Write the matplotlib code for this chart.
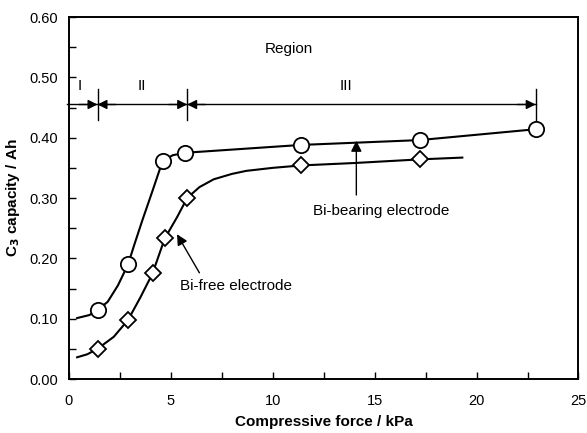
import matplotlib
matplotlib.use("Agg")
import matplotlib.pyplot as plt
from matplotlib.ticker import MultipleLocator

plt.rcParams['font.family'] = ['Liberation Sans', 'DejaVu Sans']

# measured points
bi_x = [1.4, 2.9, 4.6, 5.7, 11.4, 17.2, 22.9]
bi_y = [0.114, 0.190, 0.362, 0.375, 0.388, 0.396, 0.414]
free_x = [1.4, 2.9, 4.1, 4.7, 5.8, 11.4, 17.2]
free_y = [0.050, 0.098, 0.175, 0.233, 0.300, 0.354, 0.364]

# hand drawn trend lines
bi_line_x = [0.4, 1.0, 1.4, 1.9, 2.4, 2.9, 3.2, 3.6, 4.1, 4.6, 5.1, 5.7, 11.4, 17.2, 22.9]
bi_line_y = [0.101, 0.106, 0.114, 0.128, 0.155, 0.190, 0.222, 0.263, 0.312, 0.362, 0.371, 0.375, 0.388, 0.396, 0.414]
free_line_x = [0.4, 0.9, 1.4, 2.2, 2.9, 3.5, 4.1, 4.7, 5.3, 5.8, 6.4, 7.1, 8.0, 8.7, 10.0, 11.4, 14.0, 17.2, 19.3]
free_line_y = [0.036, 0.041, 0.050, 0.070, 0.098, 0.135, 0.175, 0.233, 0.268, 0.300, 0.318, 0.331, 0.340, 0.345, 0.350, 0.354, 0.358, 0.364, 0.367]

# region boundaries
region_bounds = [0.0, 1.4, 5.8, 22.9]
region_labels = ['I', 'II', 'III']
region_label_x = [0.55, 3.6, 13.6]
region_y = 0.455

fig = plt.figure(figsize=(5.87, 4.33), dpi=100)
ax = fig.add_axes([0.1175, 0.1247, 0.868, 0.836])

ax.plot(bi_line_x, bi_line_y, color='black', lw=1.5, zorder=2)
ax.plot(free_line_x, free_line_y, color='black', lw=1.5, zorder=2)
ax.plot(bi_x, bi_y, 'o', ms=11, mfc='white', mec='black', mew=1.3, zorder=3)
ax.plot(free_x, free_y, 'D', ms=8, mfc='white', mec='black', mew=1.3, zorder=3)

# region arrows
ax.plot([region_bounds[0] - 0.1, region_bounds[-1]], [region_y, region_y], color='black', lw=1.0, clip_on=False)
for b in region_bounds[1:]:
    ax.plot([b, b], [0.43, 0.48], color='black', lw=1.0)
ap = dict(arrowstyle='-|>', color='black', lw=1.0, mutation_scale=14, shrinkA=0, shrinkB=0)
ax.annotate('', xy=(region_bounds[1], region_y), xytext=(region_bounds[1] - 0.9, region_y), arrowprops=ap)
for i in range(1, 3):
    a, b = region_bounds[i], region_bounds[i + 1]
    ax.annotate('', xy=(a, region_y), xytext=(a + 0.9, region_y), arrowprops=ap)
    ax.annotate('', xy=(b, region_y), xytext=(b - 0.9, region_y), arrowprops=ap)
for lab, lx in zip(region_labels, region_label_x):
    ax.text(lx, 0.486, lab, ha='center', va='center', fontsize=11)
ax.text(10.8, 0.547, 'Region', ha='center', va='center', fontsize=11)

# annotations
ax.annotate('', xy=(14.1, 0.395), xytext=(14.1, 0.305),
            arrowprops=dict(arrowstyle='-|>', color='black', lw=1.0, mutation_scale=16, shrinkA=0, shrinkB=0))
ax.text(15.3, 0.279, 'Bi-bearing electrode', ha='center', va='center', fontsize=11)
ax.annotate('', xy=(5.3, 0.240), xytext=(6.4, 0.176),
            arrowprops=dict(arrowstyle='-|>', color='black', lw=1.0, mutation_scale=16, shrinkA=0, shrinkB=0))
ax.text(8.2, 0.154, 'Bi-free electrode', ha='center', va='center', fontsize=11)

ax.set_xlim(0, 25)
ax.set_ylim(0, 0.60)
ax.xaxis.set_major_locator(MultipleLocator(5))
ax.xaxis.set_minor_locator(MultipleLocator(2.5))
ax.yaxis.set_major_locator(MultipleLocator(0.10))
ax.yaxis.set_minor_locator(MultipleLocator(0.05))
ax.set_yticklabels([f'{v:.2f}' for v in ax.get_yticks()])
ax.tick_params(which='both', direction='in', labelsize=10.5, width=1.0)
ax.tick_params(axis='x', which='major', length=5, pad=11)
ax.tick_params(axis='y', which='major', length=5, pad=8)
ax.tick_params(which='minor', length=5)
for s in ax.spines.values():
    s.set_linewidth(1.4)

ax.set_xlabel('Compressive force / kPa', fontsize=11, fontweight='bold', labelpad=5)
ax.set_ylabel('C$_\\mathbf{3}$ capacity / Ah', fontsize=11, fontweight='bold', labelpad=5)

fig.savefig('out.png', dpi=100)
